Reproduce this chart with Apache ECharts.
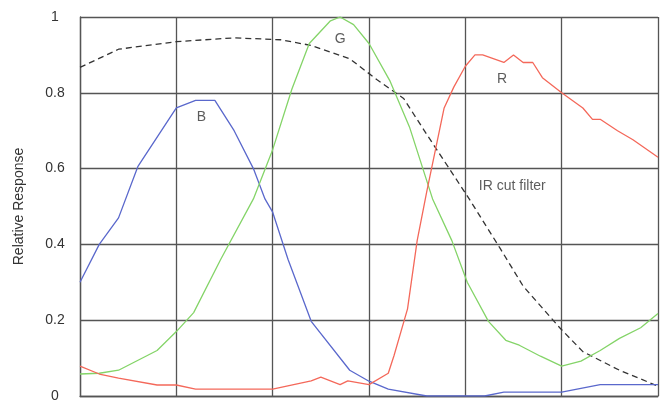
<!DOCTYPE html>
<html>
<head>
<meta charset="utf-8">
<script src="https://cdn.jsdelivr.net/npm/echarts@6/dist/echarts.min.js"></script>
<style>
  html, body { margin: 0; padding: 0; background: #fff; }
  #chart { width: 662px; height: 403px; }
</style>
</head>
<body>
<div id="chart"></div>
<script>
// wavelength (nm) / relative response pairs
const blueX = [400, 410, 420, 430, 450, 460, 470, 480, 490, 496, 500, 508, 520, 540, 550, 560, 580, 610, 620, 650, 670, 700];
const blueY = [0.30, 0.40, 0.47, 0.605, 0.76, 0.78, 0.78, 0.70, 0.60, 0.52, 0.485, 0.36, 0.197, 0.068, 0.039, 0.018, 0, 0, 0.01, 0.01, 0.03, 0.03];

const greenX = [400, 410, 420, 440, 450, 459, 473, 490, 500, 510, 519, 530, 535, 542, 550, 561, 571, 583, 593, 601, 612, 621, 628, 639, 650, 660, 670, 680, 691, 700];
const greenY = [0.058, 0.06, 0.068, 0.12, 0.17, 0.22, 0.36, 0.52, 0.65, 0.81, 0.93, 0.99, 1.0, 0.98, 0.93, 0.83, 0.71, 0.52, 0.41, 0.30, 0.197, 0.147, 0.134, 0.105, 0.079, 0.092, 0.12, 0.152, 0.18, 0.218];

const redX = [400, 410, 420, 440, 450, 460, 500, 520, 525, 530, 535, 539, 550, 560, 563, 570, 575, 580, 589, 594, 600, 605, 609, 620, 625, 630, 635, 640, 650, 661, 666, 670, 679, 687, 700];
const redY = [0.079, 0.058, 0.047, 0.029, 0.029, 0.018, 0.018, 0.04, 0.05, 0.04, 0.03, 0.04, 0.03, 0.06, 0.107, 0.23, 0.41, 0.54, 0.76, 0.815, 0.87, 0.90, 0.90, 0.88, 0.90, 0.88, 0.88, 0.84, 0.80, 0.76, 0.73, 0.73, 0.70, 0.676, 0.63];

const irX = [400, 420, 450, 480, 504, 520, 540, 554, 568, 580, 591, 602, 618, 630, 649, 661, 680, 700];
const irY = [0.867, 0.915, 0.935, 0.945, 0.94, 0.925, 0.89, 0.835, 0.785, 0.69, 0.605, 0.52, 0.39, 0.29, 0.18, 0.117, 0.068, 0.026];

// curve captions: [x, y, text, align]
const captions = [
  [463, 0.737, "B", "center"],
  [535, 0.941, "G", "center"],
  [619, 0.836, "R", "center"],
  [607, 0.553, "IR cut filter", "left"]
];

function pairs(xs, ys) {
  return xs.map((x, i) => [x, ys[i]]);
}

let chartDom = document.getElementById("chart");
let myChart = echarts.init(chartDom);

let lineSeries = function (name, xs, ys, color, type) {
  return {
    name: name,
    type: "line",
    data: pairs(xs, ys),
    symbol: "none",
    silent: true,
    lineStyle: { color: color, width: 1.3, type: type || "solid" },
  };
};

let option = {
  animation: false,
  grid: { left: 80, right: 4, top: 17, bottom: 5 },
  xAxis: {
    type: "value",
    min: 400,
    max: 700,
    interval: 50,
    axisLabel: { show: false },
    axisTick: { show: false },
    axisLine: { show: true, lineStyle: { color: "#555", width: 1.3 } },
    splitLine: { show: true, lineStyle: { color: "#555", width: 1.3 } },
  },
  yAxis: {
    type: "value",
    min: 0,
    max: 1,
    interval: 0.2,
    name: "Relative Response",
    nameLocation: "middle",
    nameGap: 54,
    nameTextStyle: { color: "#333", fontSize: 14, fontFamily: "Liberation Sans" },
    axisLabel: {
      color: "#333",
      fontSize: 14,
      fontFamily: "Liberation Sans",
      align: "center",
      margin: 25,
      formatter: (v) => String(Math.round(v * 10) / 10),
    },
    axisTick: { show: false },
    axisLine: { show: true, lineStyle: { color: "#555", width: 1.3 } },
    splitLine: { show: true, lineStyle: { color: "#555", width: 1.3 } },
  },
  series: [
    lineSeries("IR cut filter", irX, irY, "#333", [6, 4]),
    lineSeries("B", blueX, blueY, "#5a68cc"),
    lineSeries("G", greenX, greenY, "#84d468"),
    lineSeries("R", redX, redY, "#f4685a"),
    {
      type: "scatter",
      silent: true,
      symbolSize: 0,
      data: captions.map((c) => ({
        value: [c[0], c[1]],
        name: c[2],
        label: { align: c[3] },
      })),
      label: {
        show: true,
        position: "inside",
        formatter: (p) => p.name,
        color: "#333",
        fontSize: 14,
        fontFamily: "Liberation Sans",
      },
    },
  ],
};

myChart.setOption(option);
</script>
</body>
</html>
